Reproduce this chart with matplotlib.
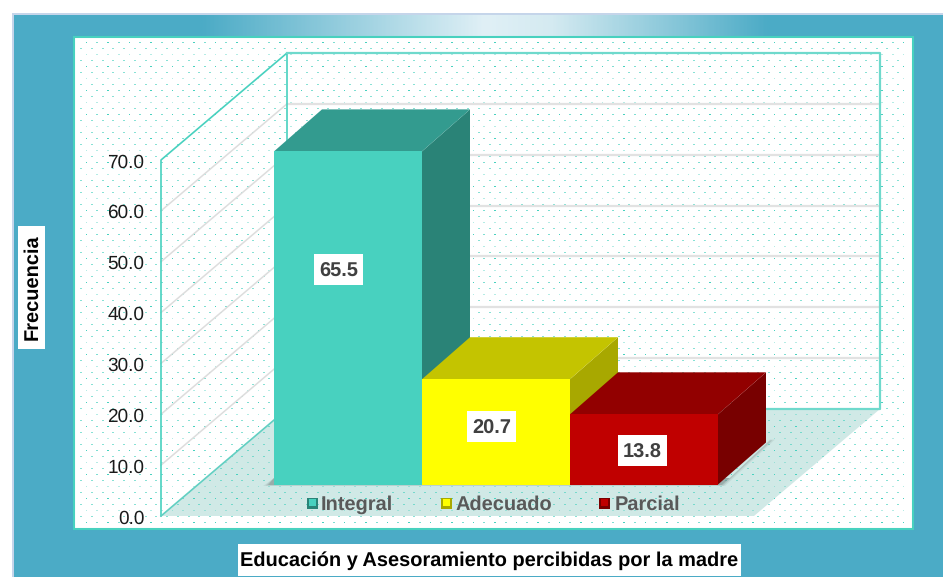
import numpy as np
import matplotlib
matplotlib.use('Agg')
import matplotlib.pyplot as plt
from matplotlib.patches import Polygon, Rectangle
from matplotlib.colors import LinearSegmentedColormap, to_rgb

plt.rcParams['font.family'] = ['Liberation Sans', 'DejaVu Sans']
plt.rcParams['text.hinting'] = 'no_hinting'
plt.rcParams['text.hinting_factor'] = 1

categories = ['Integral', 'Adecuado', 'Parcial']
values = [65.5, 20.7, 13.8]
yticks = [0, 10, 20, 30, 40, 50, 60, 70]
xlabel = 'Educación y Asesoramiento percibidas por la madre'
ylabel = 'Frecuencia'

front_colors = ['#48D1BF', '#FFFF00', '#C00000']
top_colors = ['#339B8F', '#C4C400', '#920000']
side_colors = ['#2A8377', '#A8A800', '#780000']

# where the value boxes sit
label_x = [338.5, 491.5, 642.5]
label_y = [269.5, 426, 450.5]

blue = '#4BABC6'
teal = '#48D1BF'

fig = plt.figure(figsize=(9.43, 5.77), dpi=100)
ax = fig.add_axes([0, 0, 1, 1])

# value -> pixel on the front plane of the chart box
unit = 356 / 70
def wall_y(v):
    return 516 - v * unit

# outer panel
ax.add_patch(Rectangle((12, 13), 931, 564, fc='#C5D5EA', ec='none', zorder=1))
ax.add_patch(Rectangle((13.5, 15), 930, 562, fc=blue, ec='none', zorder=1.1))

# light band on the top
cm = LinearSegmentedColormap.from_list('band', [(0, blue), (0.5, '#E0F0F6'), (0.62, '#D4EAF1'), (1, blue)])
grad = np.linspace(0, 1, 400).reshape(1, -1)
ax.imshow(grad, extent=(200, 770, 37, 15), cmap=cm, aspect='auto', zorder=1.2)
ax.set_xlim(0, 943)
ax.set_ylim(577, 0)
ax.axis('off')

# plot area
ax.add_patch(Rectangle((74, 37), 839, 492, fc='white', ec=teal, lw=1.5, zorder=2))

# floor
ax.add_patch(Polygon([(161, 516), (287, 409), (880, 409), (754, 516)], fc='#D0E9E6', ec='none', zorder=2.1))

# dotted texture
for k in range(81):
    yy = 42.5 + 6 * k
    if yy > 527:
        continue
    xx = np.arange(495 - 10.75 * 39, 912, 10.75)
    if k % 2 == 1:
        xx = xx - 5.37
    xx = xx[xx > 76]
    if k % 4 == 0:
        alpha = np.where(np.arange(len(xx)) % 2 == 0, 1.0, 0.7)
    elif k % 2 == 1:
        alpha = np.full(len(xx), 0.65)
    else:
        alpha = np.full(len(xx), 0.4)
    cols = np.zeros((len(xx), 4))
    cols[:, :3] = to_rgb(teal)
    cols[:, 3] = alpha
    ax.scatter(xx, np.full(len(xx), yy), s=1.7, marker='s', c=cols, linewidths=0, zorder=2.2)

# gridlines on side and back wall
for v in yticks[1:-1]:
    y = wall_y(v)
    ax.plot([161, 287], [y, y - 107], color='#DDDDDD', lw=1.1, zorder=2.3)
    ax.plot([287, 880], [y - 107, y - 107], color='#E2E2E2', lw=1.6, zorder=2.3)

# box edges
wall = '#6FD9CC'
ax.plot([161, 161, 287, 287], [wall_y(0), wall_y(70), wall_y(70) - 107, wall_y(0) - 107], color=teal, lw=1.2, zorder=2.4)
ax.plot([161, 287], [wall_y(0), wall_y(0) - 107], color='#62CFC2', lw=1.2, zorder=2.4)
ax.plot([287, 880, 880, 287], [wall_y(70) - 107, wall_y(70) - 107, wall_y(0) - 107, wall_y(0) - 107], color=wall, lw=1.6, zorder=2.4)

# y tick labels
for v in yticks:
    ax.text(144.5, wall_y(v) + 2.5, '%.1f' % v, ha='right', va='center', fontsize=14, color='#1A1A1A', zorder=3)

# bars, back to front
bar_w = 148
bar_left = 274
base = 484.5
dx, dy = 48, 42

# soft shadow under the bars
for grow, a in [(0, 0.35), (2.5, 0.22), (5, 0.12)]:
    ax.add_patch(Polygon([(268 - grow, 485 + grow * 0.2), (274, 478), (730, 478), (770, 441 - grow * 0.3), (770 + grow, 441 - grow * 0.3),
                          (722 + grow * 0.6, 485 + grow * 0.2)], fc='#6E7F7C', ec='none', alpha=a, zorder=3))

for i, v in enumerate(values):
    x0 = bar_left + i * bar_w
    x1 = x0 + bar_w
    ytop = base - v * unit
    z = 4 + i
    ax.add_patch(Polygon([(x1, ytop), (x1 + dx, ytop - dy), (x1 + dx, base - dy), (x1, base)], fc=side_colors[i], ec='none', zorder=z))
    ax.add_patch(Polygon([(x0, ytop), (x1, ytop), (x1 + dx, ytop - dy), (x0 + dx, ytop - dy)], fc=top_colors[i], ec='none', zorder=z))
    ax.add_patch(Rectangle((x0, ytop), bar_w, base - ytop, fc=front_colors[i], ec='none', zorder=z))
    # value box
    ax.add_patch(Rectangle((label_x[i] - 24.5, label_y[i] - 15.5), 49, 31, fc='white', ec='none', zorder=8))
    ax.text(label_x[i], label_y[i] + 2.5, '%.1f' % v, ha='center', va='center', fontsize=14.5, fontweight='bold', color='#404040', zorder=9)

# legend
leg_x = [307, 441, 599]
leg_text = [321, 455.5, 615]
for i, name in enumerate(categories):
    ax.add_patch(Rectangle((leg_x[i], 497.5), 11, 11, fc=side_colors[i], ec='none', zorder=8))
    ax.add_patch(Rectangle((leg_x[i] + 2, 498.5), 7, 7, fc=front_colors[i], ec='none', zorder=8.1))
    ax.text(leg_text[i], 505, name, ha='left', va='center', fontsize=14.5, fontweight='bold', color='#595959', zorder=8)

# axis titles
ax.add_patch(Rectangle((238, 544), 503, 32, fc='white', ec='none', zorder=8))
ax.text(489.5, 561, xlabel, ha='center', va='center', fontsize=14.05, fontweight='bold', color='black', zorder=9)
ax.add_patch(Rectangle((18, 226), 27, 123, fc='white', ec='none', zorder=8))
ax.text(32.5, 287.5, ylabel, ha='center', va='center', rotation=90, fontsize=14.5, fontweight='bold', color='black', zorder=9)

fig.savefig('out.png', dpi=100)
